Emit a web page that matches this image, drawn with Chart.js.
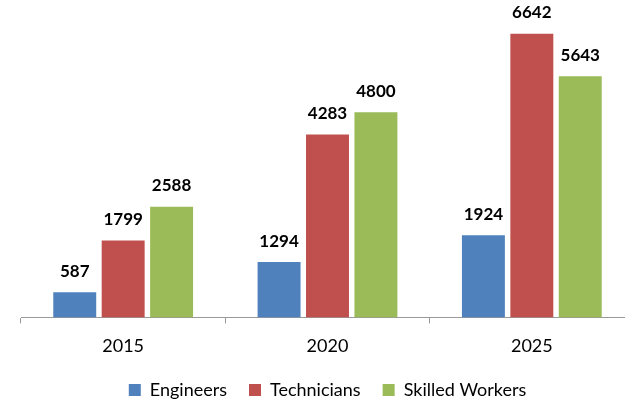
<!DOCTYPE html>
<html><head><meta charset="utf-8">
<script src="https://cdn.jsdelivr.net/npm/chart.js@4.4.0/dist/chart.umd.min.js"></script>
<style>html,body{margin:0;padding:0;background:#fff;overflow:hidden;width:625px;height:400px}#wrap{position:absolute;left:0;top:0;width:660px;height:400px}</style>
</head><body><div id="wrap"><canvas id="c" width="660" height="400"></canvas></div>
<script>
const categories = ["2015", "2020", "2025"];
const engineers = [587, 1294, 1924];
const technicians = [1799, 4283, 6642];
const skilledWorkers = [2588, 4800, 5643];
const seriesNames = ["Engineers", "Technicians", "Skilled Workers"];
const colors = ["#4F81BD", "#C0504D", "#9BBB59"];

const valueLabels = {
  id: 'valueLabels',
  afterDatasetsDraw(chart) {
    const ctx = chart.ctx;
    ctx.save();
    ctx.font = 'bold 17px Lato';
    ctx.fillStyle = '#000';
    ctx.textAlign = 'center';
    ctx.textBaseline = 'middle';
    chart.data.datasets.forEach((ds, i) => {
      chart.getDatasetMeta(i).data.forEach((el, j) => {
        ctx.fillText(String(ds.data[j]), el.x, el.y - 21);
      });
    });
    ctx.restore();
  }
};

new Chart(document.getElementById('c'), {
  type: 'bar',
  data: {
    labels: categories,
    datasets: [
      { label: seriesNames[0], data: engineers, backgroundColor: colors[0] },
      { label: seriesNames[1], data: technicians, backgroundColor: colors[1] },
      { label: seriesNames[2], data: skilledWorkers, backgroundColor: colors[2] }
    ]
  },
  options: {
    responsive: false,
    animation: false,
    devicePixelRatio: 1,
    categoryPercentage: 0.711,
    barPercentage: 0.887,
    layout: { padding: { left: 21, right: 26, top: 0, bottom: -9 } },
    scales: {
      x: {
        offset: true,
        grid: { display: true, drawOnChartArea: false, drawTicks: true, tickLength: 6, color: '#999', offset: true },
        border: { display: true, color: '#999', width: 1 },
        ticks: { color: '#000', font: { family: 'Lato', size: 18 }, padding: 12 },
        afterFit(scale) { scale.height = scale.height - 10; }
      },
      y: { display: false, min: 0, max: 7430 }
    },
    plugins: {
      legend: {
        position: 'bottom',
        labels: { boxWidth: 12, boxHeight: 12, padding: 22, color: '#000', font: { family: 'Lato', size: 18 } }
      },
      tooltip: { enabled: false }
    }
  },
  plugins: [valueLabels]
});
</script></body></html>
